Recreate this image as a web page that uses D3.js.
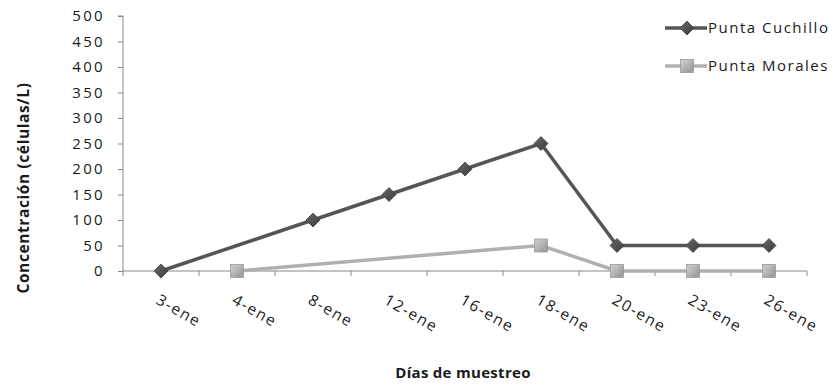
<!DOCTYPE html>
<html><head><meta charset="utf-8">
<script src="https://cdn.jsdelivr.net/npm/d3@7"></script>
<style>body{margin:0;background:#fff}svg{display:block}text{font-family:"Open Sans",sans-serif}</style>
</head><body>
<svg id="c" width="840" height="385"></svg>
<script>
const categories = ["3-ene","4-ene","8-ene","12-ene","16-ene","18-ene","20-ene","23-ene","26-ene"];
const puntaCuchillo = [0, null, 100, 150, 200, 250, 50, 50, 50];
const puntaMorales = [null, 0, null, null, null, 50, 0, 0, 0];
const yTicks = [0,50,100,150,200,250,300,350,400,450,500];
const seriesNames = ["Punta Cuchillo","Punta Morales"];

const svg = d3.select("#c");
const defs = svg.append("defs");
const g1 = defs.append("linearGradient").attr("id","gd").attr("x1","0").attr("y1","0").attr("x2","1").attr("y2","1");
g1.append("stop").attr("offset","0").attr("stop-color","#6a6a6a");
g1.append("stop").attr("offset","1").attr("stop-color","#3a3a3a");
const g2 = defs.append("linearGradient").attr("id","gs").attr("x1","0").attr("y1","0").attr("x2","1").attr("y2","1");
g2.append("stop").attr("offset","0").attr("stop-color","#d8d8d8");
g2.append("stop").attr("offset","1").attr("stop-color","#8c8c8c");

const mLeft = 123, mRight = 807, mTop = 16, mBottom = 271;
const x = d3.scaleBand().domain(categories).range([mLeft, mRight]);
const y = d3.scaleLinear().domain([0,500]).range([mBottom, mTop]);

// y axis
const ya = svg.append("g").attr("transform",`translate(${mLeft},0)`)
  .call(d3.axisLeft(y).tickValues(yTicks).tickSize(5).tickPadding(13));
ya.select(".domain").attr("stroke","#888").attr("d",`M-5,${mTop}H0V${mBottom}`);
ya.selectAll(".tick line").attr("stroke","#888");
ya.selectAll(".tick text").attr("font-size",15).attr("fill","#1a1a1a")
  .attr("font-family","Open Sans").attr("letter-spacing",2.3);

// x axis
const xa = svg.append("g").attr("transform",`translate(0,${mBottom})`);
xa.append("line").attr("x1",mLeft).attr("x2",mRight).attr("stroke","#888");
xa.selectAll(".tk").data(d3.range(categories.length+1)).join("line")
  .attr("x1",i=>mLeft+i*x.step()).attr("x2",i=>mLeft+i*x.step())
  .attr("y1",0).attr("y2",5).attr("stroke","#888");
xa.selectAll(".lb").data(categories).join("text")
  .attr("transform",d=>`translate(${x(d)+x.bandwidth()/2-6},${32}) rotate(30)`)
  .attr("font-size",15.5).attr("letter-spacing",1.6).attr("fill","#1a1a1a").text(d=>d);

// lines
const cx = d => x(d)+x.bandwidth()/2;
function drawSeries(vals, color, width, markerFn){
  const pts = categories.map((c,i)=>({c,v:vals[i]})).filter(p=>p.v!==null);
  svg.append("path").datum(pts)
    .attr("d", d3.line().x(p=>cx(p.c)).y(p=>y(p.v)))
    .attr("fill","none").attr("stroke",color).attr("stroke-width",width);
  pts.forEach(p=>markerFn(cx(p.c), y(p.v)));
}
function diamond(px,py){
  svg.append("path").attr("d",`M${px},${py-7}L${px+7},${py}L${px},${py+7}L${px-7},${py}Z`)
    .attr("fill","url(#gd)").attr("stroke","#444").attr("stroke-width",0.8);
}
function square(px,py){
  svg.append("rect").attr("x",px-6.5).attr("y",py-6.5).attr("width",13).attr("height",13)
    .attr("fill","url(#gs)").attr("stroke","#999").attr("stroke-width",0.8);
  svg.append("path").attr("d",`M${px-6},${py-6}L${px+6},${py+6}M${px+6},${py-6}L${px-6},${py+6}`)
    .attr("stroke","#b5b5b5").attr("stroke-width",1);
}
drawSeries(puntaMorales, "#b0b0b0", 3.5, square);
drawSeries(puntaCuchillo, "#555555", 3.5, diamond);

// legend
const lg = [{n:seriesNames[0],y:28,c:"#555555",m:diamond},{n:seriesNames[1],y:66,c:"#b0b0b0",m:square}];
lg.forEach(l=>{
  svg.append("line").attr("x1",665).attr("x2",707).attr("y1",l.y).attr("y2",l.y).attr("stroke",l.c).attr("stroke-width",3.5);
  l.m(687,l.y);
  svg.append("text").attr("x",708).attr("y",l.y+5).attr("font-size",15).attr("letter-spacing",1.5)
    .attr("fill","#1a1a1a").text(l.n);
});

// axis titles
svg.append("text").attr("transform",`translate(29,${188}) rotate(-90)`).attr("text-anchor","middle")
  .attr("font-size",15.5).attr("font-weight","bold").attr("letter-spacing",0.6).attr("fill","#1a1a1a").text("Concentración (células/L)");
svg.append("text").attr("x",463).attr("y",378).attr("text-anchor","middle")
  .attr("font-size",15).attr("font-weight","bold").attr("letter-spacing",0.3).attr("fill","#1a1a1a").text("Días de muestreo");
</script>
</body></html>
